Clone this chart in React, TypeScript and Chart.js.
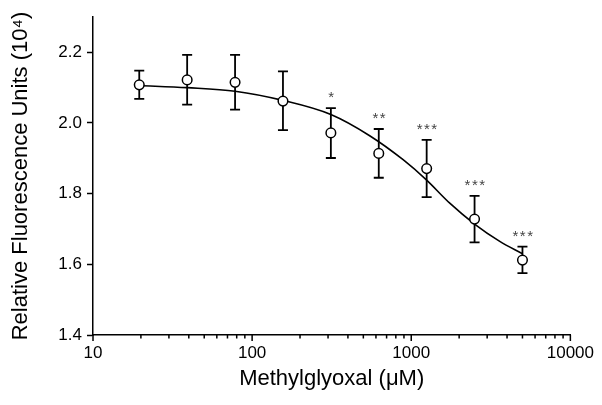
import React, { useEffect, useRef } from "react";
import { Chart, registerables } from "chart.js";

Chart.register(...registerables);

// Concentrations (µM)
const concentrations = [19.53, 39.06, 78.13, 156.25, 312.5, 625, 1250, 2500, 5000];
// Mean relative fluorescence (10^4)
const means = [2.108, 2.122, 2.115, 2.062, 1.972, 1.914, 1.871, 1.728, 1.612];
const errUpper = [2.148, 2.193, 2.193, 2.146, 2.042, 1.983, 1.952, 1.794, 1.65];
const errLower = [2.068, 2.052, 2.038, 1.98, 1.901, 1.845, 1.79, 1.662, 1.575];
const significance = ["", "", "", "", "*", "**", "***", "***", "***"];
// Fitted curve
const fitX = [19.53, 39.06, 78.13, 156.25, 312.5, 548, 889, 1245, 1746, 2500, 3600, 5000];
const fitY = [2.106, 2.1, 2.09, 2.064, 2.024, 1.964, 1.896, 1.839, 1.773, 1.714, 1.665, 1.63];
// Axis ticks
const yTicks = [1.4, 1.6, 1.8, 2.0, 2.2];
const xMajorTicks = [10, 100, 1000, 10000];
const xMinorTicks = [20, 30, 40, 50, 60, 70, 80, 90, 200, 300, 400, 500, 600, 700, 800, 900, 2000, 3000, 4000, 5000, 6000, 7000, 8000, 9000];

const FONT = "'Liberation Sans', Arial, Helvetica, sans-serif";

const overlayPlugin = {
  id: "overlay",
  beforeDatasetsDraw(chart: any) {
    const { ctx, scales } = chart;
    const xs = scales.x;
    const ys = scales.y;
    ctx.save();
    ctx.strokeStyle = "#000";
    ctx.lineWidth = 1.8;
    const cap = 5;
    concentrations.forEach((c, i) => {
      const px = xs.getPixelForValue(c);
      const pt = ys.getPixelForValue(errUpper[i]);
      const pb = ys.getPixelForValue(errLower[i]);
      ctx.beginPath();
      ctx.moveTo(px, pt);
      ctx.lineTo(px, pb);
      ctx.moveTo(px - cap, pt);
      ctx.lineTo(px + cap, pt);
      ctx.moveTo(px - cap, pb);
      ctx.lineTo(px + cap, pb);
      ctx.stroke();
    });
    ctx.restore();
  },
  afterDraw(chart: any) {
    const { ctx, scales } = chart;
    const xs = scales.x;
    const ys = scales.y;
    const axisY = ys.getPixelForValue(1.4);
    ctx.save();
    ctx.strokeStyle = "#000";
    ctx.lineWidth = 1.5;
    ctx.beginPath();
    xMajorTicks.forEach((v) => {
      const px = xs.getPixelForValue(v);
      ctx.moveTo(px, axisY);
      ctx.lineTo(px, axisY + 6);
    });
    xMinorTicks.forEach((v) => {
      const px = xs.getPixelForValue(v);
      ctx.moveTo(px, axisY);
      ctx.lineTo(px, axisY + 3.5);
    });
    ctx.stroke();
    // significance marks
    ctx.fillStyle = "#444";
    ctx.font = `15px ${FONT}`;
    ctx.textAlign = "center";
    ctx.textBaseline = "middle";
    try {
      (ctx as any).letterSpacing = "1.5px";
    } catch (e) {}
    significance.forEach((s, i) => {
      if (!s) return;
      const px = xs.getPixelForValue(concentrations[i]);
      const pt = ys.getPixelForValue(errUpper[i]);
      ctx.fillText(s, px + 1, pt - 10);
    });
    ctx.restore();
  },
};

export default function App() {
  const ref = useRef<HTMLCanvasElement | null>(null);
  useEffect(() => {
    if (!ref.current) return;
    const chart = new Chart(ref.current, {
      type: "scatter",
      data: {
        datasets: [
          {
            label: "means",
            data: concentrations.map((c, i) => ({ x: c, y: means[i] })),
            showLine: false,
            pointStyle: "circle",
            pointRadius: 4.8,
            pointBackgroundColor: "#fff",
            pointBorderColor: "#000",
            pointBorderWidth: 1.5,
          },
          {
            label: "fit",
            data: fitX.map((x, i) => ({ x, y: fitY[i] })),
            showLine: true,
            borderColor: "#000",
            borderWidth: 1.6,
            pointRadius: 0,
            cubicInterpolationMode: "monotone",
          } as any,
        ],
      },
      options: {
        animation: false,
        responsive: false,
        layout: { padding: { left: 0, top: 17, right: 31, bottom: 0 } },
        plugins: { legend: { display: false }, tooltip: { enabled: false } },
        scales: {
          x: {
            type: "logarithmic",
            min: 10,
            max: 10000,
            afterBuildTicks: (s: any) => {
              s.ticks = xMajorTicks.map((v) => ({ value: v }));
            },
            afterFit: (s: any) => {
              s.height = 70;
            },
            grid: { display: false, drawTicks: false },
            border: { display: true, color: "#000", width: 1.5 },
            ticks: {
              color: "#000",
              font: { family: FONT, size: 17 },
              padding: 8,
              maxRotation: 0,
              autoSkip: false,
              callback: (v: any) => String(v),
            },
            title: {
              display: true,
              text: "Methylglyoxal (\u03BCM)",
              color: "#000",
              font: { family: FONT, size: 22 },
              padding: { top: 0, bottom: 13 },
            },
          },
          y: {
            type: "linear",
            min: 1.4,
            max: 2.3,
            afterBuildTicks: (s: any) => {
              s.ticks = yTicks.map((v) => ({ value: v }));
            },
            afterFit: (s: any) => {
              s.width = 93;
            },
            grid: {
              display: true,
              drawOnChartArea: false,
              drawTicks: true,
              tickLength: 6,
              tickColor: "#000",
              tickWidth: 1.5,
            },
            border: { display: true, color: "#000", width: 1.5 },
            ticks: {
              color: "#000",
              font: { family: FONT, size: 17 },
              padding: 5,
              callback: (v: any) => Number(v).toFixed(1),
            },
            title: {
              display: true,
              text: "Relative Fluorescence Units (10\u2074)",
              color: "#000",
              font: { family: FONT, size: 22 },
              padding: { top: 8, bottom: 0 },
            },
          },
        },
      },
      plugins: [overlayPlugin],
    });
    return () => chart.destroy();
  }, []);
  return (
    <div style={{ position: "absolute", left: 0, top: 0, width: 602, height: 405, background: "#fff" }}>
      <canvas ref={ref} width={602} height={405} />
    </div>
  );
}
